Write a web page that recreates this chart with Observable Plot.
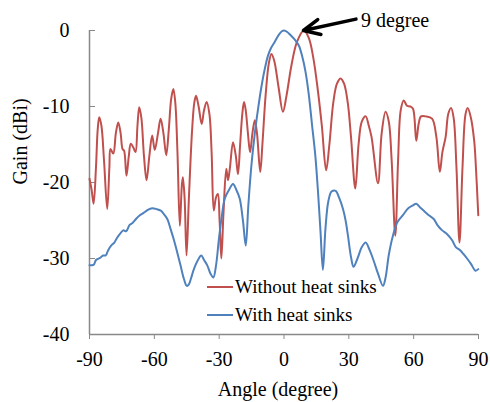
<!DOCTYPE html>
<html><head><meta charset="utf-8">
<script src="https://cdn.jsdelivr.net/npm/d3@7"></script>
<script src="https://cdn.jsdelivr.net/npm/@observablehq/plot@0.6"></script>
<style>
body{margin:0;background:#fff;}
#wrap{position:relative;width:490px;height:402px;}
#legend{position:absolute;left:207px;top:273px;font:19px "Liberation Serif","Times New Roman",serif;color:#000;}
.row{display:flex;align-items:center;height:28px;line-height:1;}
.sw{width:26px;height:2px;margin-right:2px;}
.lab{position:relative;top:-1px;}
</style></head><body>
<div id="wrap"><div id="legend"></div></div>
<script>
// Series names
const seriesNames = ["Without heat sinks", "With heat sinks"];
const seriesColors = ["#C0504D", "#4F81BD"];

// Without heat sinks
const redAngle = [-90,-89,-88.1,-87,-86.2,-85.5,-84.5,-83.3,-81.8,-80.8,-80.3,-79,-77.8,-76.7,-75.6,-74.7,-74,-72.9,-71.8,-70.9,-69.7,-68.7,-67.8,-67,-66,-64.8,-63.6,-62.3,-61,-59.8,-58.3,-57.1,-55.8,-54.5,-53.3,-52.2,-51.2,-50.3,-49.3,-48.2,-47.3,-46.8,-46,-45.1,-44,-42.5,-41.5,-40.7,-39.5,-38.1,-37,-35.8,-34.5,-33.5,-32.5,-31.5,-30.6,-29.8,-29,-28,-26.7,-25.9,-25,-23.6,-22.3,-21.3,-20.3,-19.3,-18.5,-17.7,-16.7,-15.7,-14.6,-13.5,-12.5,-11,-10,-8.5,-7,-5.8,-4.5,-2.5,-0.5,1.2,3.5,6,9.2,11.5,13.5,15.5,17.5,19.5,21,22.8,24.5,26.2,27.8,29.5,31,33,34.5,36,37.8,39.2,40.5,43.5,45.2,47,48.5,49.8,51.5,52.8,54,55.4,56.9,58.5,59.7,61.2,62.3,63.4,65.5,68.5,70.5,72.1,73.3,74.8,76,77.3,78.5,79.8,81.2,82.6,84,85,86.5,88,88.6,89.9];
const redGain  = [-19.5,-21,-22.8,-18,-13,-11.4,-12.5,-17,-23.5,-18,-15.6,-16.2,-13.5,-12.1,-13.5,-15.6,-15.8,-19.1,-16.5,-14.9,-15.4,-16,-12.5,-10.1,-11.5,-16.5,-19.7,-16.5,-13.8,-15.7,-13.5,-11.6,-13.5,-16.4,-13,-9,-7.7,-9.5,-16,-25.7,-20.5,-19.3,-22,-29.6,-22,-13,-9.5,-8.6,-10,-12.3,-10.5,-9.4,-11,-16,-23.7,-22,-21.5,-25,-30,-24,-18.2,-19.7,-18,-14.7,-16.5,-18.9,-15,-11,-9.4,-10.5,-13.5,-16,-13.5,-11.8,-13.5,-18.6,-15,-8.5,-4.3,-3.1,-4,-7.5,-10.7,-8.5,-4.5,-1.5,0,-1,-3.5,-7.5,-12.5,-18.4,-15,-9.5,-7,-6.3,-7,-9.5,-14,-20.8,-15,-12,-11.3,-12.5,-14,-20.1,-13.5,-10.7,-12,-17,-27,-17,-10.5,-9.2,-9.9,-10,-10.3,-14.5,-12.3,-11.3,-11.3,-11.6,-14,-18.6,-16,-14,-11,-10.2,-11.5,-18,-27.9,-18,-11,-10.2,-11.5,-14.5,-16.9,-24.3];

// With heat sinks
const blueAngle = [-90,-88,-87,-85,-83.7,-82.5,-81.5,-80,-78.5,-77.5,-76,-74.4,-73,-71.5,-70,-68.5,-66.7,-65,-63,-61,-59,-57,-56,-54,-52.5,-51,-49.4,-47.8,-46.3,-45,-44,-43,-41.7,-40,-38.3,-37,-35.5,-34,-32.7,-31.5,-30.1,-28.8,-27.4,-25.5,-23.6,-22,-20.5,-19,-17.7,-16.5,-15.1,-13.5,-12,-10.5,-9,-7.4,-6,-4.3,-2.5,-1,0,1.5,3,5,6.9,8.5,10,11.5,13,14.5,15.8,16.9,18,19.2,20.5,22,23.9,25.5,27.3,28.5,29.6,31,32.2,34,36,37.8,39.5,41.5,43.5,45.8,47,48.5,50.4,52.5,55,57.5,59.7,61.2,63,65,67,69.3,71,73.2,75.5,77.8,79.5,81.5,83,84.7,86.5,88.6,89.9];
const blueGain  = [-30.9,-30.8,-30.2,-29.9,-29.6,-29.6,-29,-28.3,-27.9,-27.4,-26.8,-26.3,-26.4,-25.6,-25.3,-24.8,-24.3,-24,-23.6,-23.4,-23.5,-23.7,-24,-24.8,-26.1,-27.5,-29.2,-31,-32.7,-33.6,-33.4,-32.6,-31.4,-30.3,-29.6,-30.2,-30.9,-32,-32.5,-31,-27.4,-24.5,-22.1,-21,-20.2,-21,-22.1,-25,-28.3,-23,-17.8,-13.5,-10.3,-7.5,-5.2,-3.3,-2.3,-1.5,-0.6,-0.1,0,-0.2,-0.6,-1.2,-2,-3.5,-5.5,-8.5,-12.5,-16.5,-21.5,-26.5,-31.5,-26,-22.5,-21.2,-21.1,-22,-23.5,-25,-27,-29.8,-31.1,-30,-28.5,-27.9,-28.8,-30.3,-32,-33.6,-32.5,-29.5,-27,-25.2,-24.3,-23.4,-23,-22.8,-23.3,-23.8,-24.3,-24.8,-25.6,-26.3,-26.8,-27.6,-28.5,-28.9,-29.4,-30,-30.7,-31.6,-31.4];

// Axes
const xTicks = [-90, -60, -30, 0, 30, 60, 90];
const yTicks = [-40, -30, -20, -10, 0];
const xLabel = "Angle (degree)";
const yLabel = "Gain (dBi)";

// Annotation: peak of the red curve and where the note sits
const annotation = [{label: "9 degree", angle: 9, gain: 0, noteAngle: 33.3, noteGain: 1.5, textAngle: 35.6, textGain: 1.3}];

const red = redAngle.map((a, i) => ({angle: a, gain: redGain[i]}));
const blue = blueAngle.map((a, i) => ({angle: a, gain: blueGain[i]}));

const axisGray = "#898989";
const font = '"Liberation Serif","Times New Roman",serif';

const chart = Plot.plot({
  width: 490, height: 402,
  marginLeft: 89, marginRight: 12, marginTop: 30, marginBottom: 68,
  x: {domain: [-90, 90]},
  y: {domain: [-40, 0]},
  style: {fontFamily: font, fontSize: "20px", color: "#000", background: "#fff", overflow: "visible"},
  marks: [
    Plot.axisY({ticks: yTicks, tickSize: -6, tickPadding: 26, stroke: axisGray, fill: "#000", label: null, tickFormat: d => String(d)}),
    Plot.axisX({ticks: xTicks, tickSize: 5, tickPadding: 12, stroke: axisGray, fill: "#000", label: null, tickFormat: d => String(d)}),
    Plot.ruleX([-90], {stroke: axisGray, strokeWidth: 1.5}),
    Plot.ruleY([-40], {stroke: axisGray, strokeWidth: 1.5}),
    Plot.line(red, {x: "angle", y: "gain", stroke: seriesColors[0], strokeWidth: 2, curve: "catmull-rom"}),
    Plot.line(blue, {x: "angle", y: "gain", stroke: seriesColors[1], strokeWidth: 2, curve: "catmull-rom"}),
    Plot.arrow(annotation, {x1: "noteAngle", y1: "noteGain", x2: "angle", y2: "gain", stroke: "#000", strokeWidth: 3.5, headLength: 11, headAngle: 50}),
    Plot.text(annotation, {x: "textAngle", y: "textGain", text: "label", textAnchor: "start", lineAnchor: "middle", fontSize: 20, fill: "#000"}),
    Plot.text([xLabel], {frameAnchor: "bottom", lineAnchor: "top", dy: 47, dx: -6, fontSize: 20, fill: "#000"}),
    Plot.text([yLabel], {frameAnchor: "left", rotate: -90, lineAnchor: "middle", dx: -69, dy: 2, fontSize: 20, fill: "#000"})
  ]
});
document.getElementById("wrap").prepend(chart);

const legend = document.getElementById("legend");
seriesNames.forEach((name, i) => {
  const row = document.createElement("div");
  row.className = "row";
  const sw = document.createElement("span");
  sw.className = "sw";
  sw.style.background = seriesColors[i];
  const lab = document.createElement("span");
  lab.className = "lab";
  lab.textContent = name;
  row.append(sw, lab);
  legend.append(row);
});
</script>
</body></html>
